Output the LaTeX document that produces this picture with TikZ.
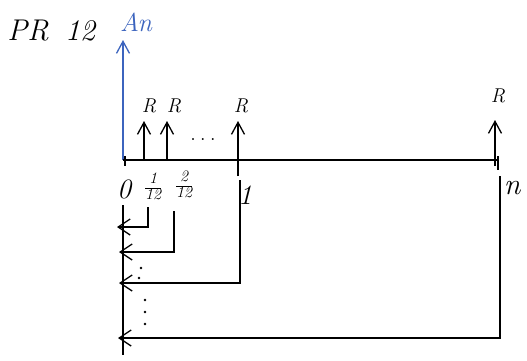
\documentclass[tikz,border=0pt]{standalone}
\usetikzlibrary{arrows.meta}
\definecolor{penblue}{RGB}{60,100,190}
\newcommand{\fs}[1]{\fontsize{#1}{#1}\selectfont}
\newcommand{\myfrac}[2]{\begin{tabular}{@{}c@{}}#1\\\hline#2\end{tabular}}
\begin{document}
\begin{tikzpicture}[x=1pt,y=-1pt,line width=1.3pt,
  lbl/.style={inner sep=1pt},
  upar/.style={-{Straight Barb[length=12pt,width=13pt]}},
  leftar/.style={-{Straight Barb[length=12pt,width=16pt]}}]
\useasboundingbox (0,0) rectangle (527,360);
% title
\node[lbl,font=\fs{30}\itshape] (pr) at (28,31) {PR};
\node[lbl,font=\fs{30}\itshape] (tw) at (80,31) {12};
\node[lbl,font=\fs{26}\itshape,text=penblue] (an) at (136,22) {An};
% timeline
\coordinate (o) at (123,160);
\coordinate (e) at (498,160);
\draw[penblue,upar] (o) -- (123,40) coordinate (ot);
\draw (o) -- (e);
\draw (125,156) -- (125,166);
\draw (498,156) -- (498,170);
% up arrows with R
\coordinate (a1) at (144,160); \coordinate (a1t) at (144,121);
\coordinate (a2) at (167,160); \coordinate (a2t) at (167,121);
\coordinate (a3) at (238,176); \coordinate (a3t) at (238,121);
\coordinate (a4) at (495,166); \coordinate (a4t) at (495,120);
\draw[upar] (a1) -- (a1t);
\draw[upar] (a2) -- (a2t);
\draw[upar] (a3) -- (a3t);
\draw[upar] (a4) -- (a4t);
\node[lbl,font=\fs{20}\itshape] (r1) at (149,106) {R};
\node[lbl,font=\fs{20}\itshape] (r2) at (174,106) {R};
\node[lbl,font=\fs{20}\itshape] (r3) at (241,106) {R};
\node[lbl,font=\fs{20}\itshape] (r4) at (498,96) {R};
\node[lbl,font=\fs{24}] (dots) at (203,140) {.\,.\,.};
% labels below
\node[lbl,font=\fs{28}\itshape] (l0) at (124,189) {0};
\node[lbl,font=\fs{16}\itshape,inner sep=0pt] (l1) at (153,188) {\myfrac{1}{12}};
\node[lbl,font=\fs{16}\itshape,inner sep=0pt] (l2) at (184,186) {\myfrac{2}{12}};
\node[lbl,font=\fs{28}\itshape] (l3) at (245,195) {1};
\node[lbl,font=\fs{30}\itshape] (ln) at (512,188) {n};
% left axis
\coordinate (ax1) at (123,205);
\coordinate (ax2) at (123,355);
\draw (ax1) -- (ax2);
% discount paths
\coordinate (p1) at (148,207); \coordinate (q1) at (117,227);
\coordinate (p2) at (174,211); \coordinate (q2) at (119,252);
\coordinate (p3) at (240,180); \coordinate (q3) at (119,283);
\coordinate (p4) at (500,176); \coordinate (q4) at (118,338);
\draw[leftar] (p1) |- (q1);
\draw[leftar] (p2) |- (q2);
\draw[leftar] (p3) |- (q3);
\draw[leftar] (p4) |- (q4);
% dots
\fill (141,268) circle (1.3pt);
\fill (139,278) circle (1.3pt);
\fill (145,300) circle (1.3pt);
\fill (145,312) circle (1.3pt);
\fill (145,324) circle (1.3pt);
\end{tikzpicture}
\end{document}
